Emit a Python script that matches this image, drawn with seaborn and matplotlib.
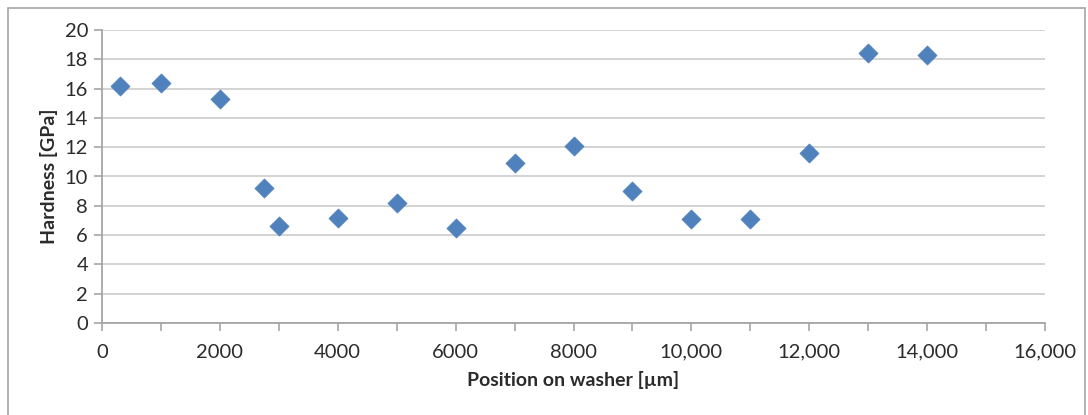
import matplotlib
matplotlib.use("Agg")
import matplotlib.pyplot as plt
import matplotlib.ticker as mticker
import seaborn as sns
import pandas as pd

position_um = [300, 1000, 2000, 2750, 3000, 4000, 5000, 6000, 7000, 8000, 9000, 10000, 11000, 12000, 13000, 14000]
hardness_gpa = [16.2, 16.4, 15.3, 9.2, 6.6, 7.2, 8.2, 6.5, 10.9, 12.1, 9.0, 7.1, 7.1, 11.6, 18.4, 18.3]
x_tick_values = [0, 2000, 4000, 6000, 8000, 10000, 12000, 14000, 16000]
x_tick_labels = ["0", "2000", "4000", "6000", "8000", "10,000", "12,000", "14,000", "16,000"]
y_tick_values = [0, 2, 4, 6, 8, 10, 12, 14, 16, 18, 20]

df = pd.DataFrame({"pos": position_um, "hard": hardness_gpa})

sns.set_style("white")
plt.rcParams['font.family'] = ['Lato', 'DejaVu Sans']

fig = plt.figure(figsize=(10.88, 4.15), dpi=100)
ax = fig.add_axes([102/1088, 1-323/415, (1045-102)/1088, (323-30)/415])

# outer chart border
fig.patches.append(plt.Rectangle((8/1088, -0.01), (1085-8)/1088, 1.01-8/415, transform=fig.transFigure,
                                 fill=False, edgecolor="#A6A6A6", linewidth=1.2))

sns.scatterplot(data=df, x="pos", y="hard", marker="D", s=95, color="#4F81BD",
                edgecolor="#4F81BD", linewidth=0.5, ax=ax, zorder=3)

ax.set_xlim(0, 16000)
ax.set_ylim(0, 20)
ax.set_xticks(x_tick_values)
ax.set_xticklabels(x_tick_labels)
ax.xaxis.set_minor_locator(mticker.MultipleLocator(1000))
ax.set_yticks(y_tick_values)

ax.yaxis.grid(True, color="#D0D0D0", linewidth=1.3)
ax.xaxis.grid(False)
for s in ["top", "right"]:
    ax.spines[s].set_visible(False)
for s in ["left", "bottom"]:
    ax.spines[s].set_color("#A6A6A6")
    ax.spines[s].set_linewidth(1.3)

ax.tick_params(axis="x", which="both", direction="out", length=6, width=1.2, color="#A6A6A6",
               labelsize=14.5, labelcolor="#2b2b2b", pad=9, bottom=True)
ax.tick_params(axis="y", which="major", direction="out", length=6, width=1.2, color="#A6A6A6",
               labelsize=14.5, labelcolor="#2b2b2b", pad=4, left=True)

ax.set_xlabel("Position on washer [µm]", fontsize=14, fontweight="bold", color="#2b2b2b", labelpad=7)
ax.set_ylabel("Hardness [GPa]", fontsize=14, fontweight="bold", color="#2b2b2b", labelpad=5)

fig.savefig("out.png", dpi=100)
